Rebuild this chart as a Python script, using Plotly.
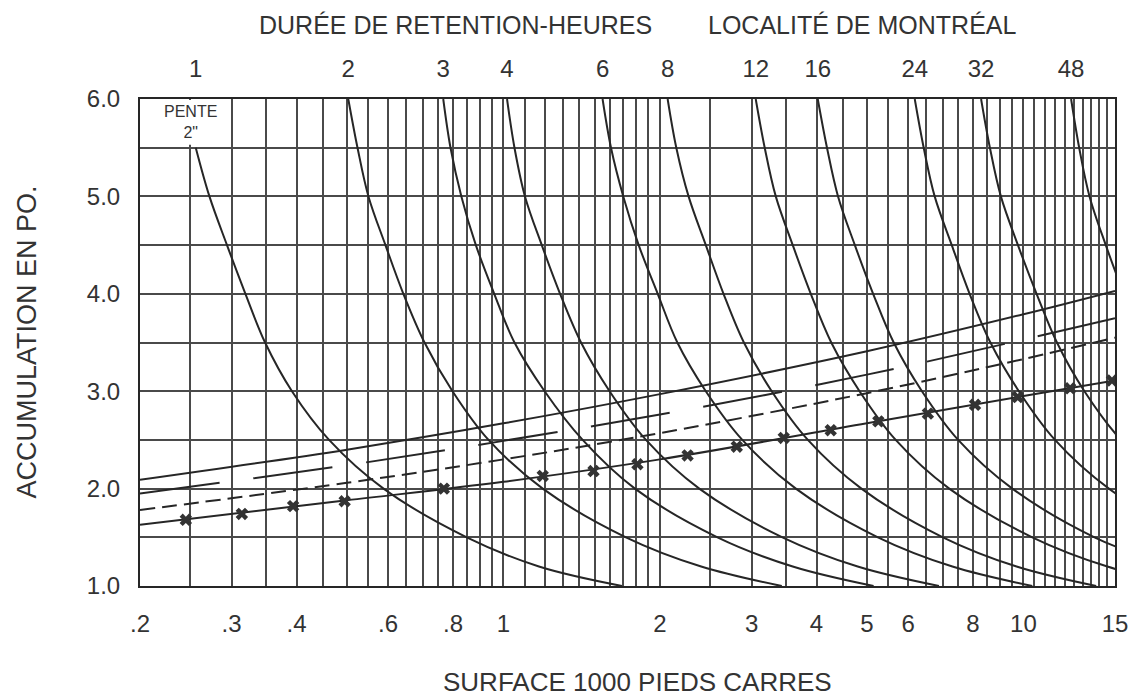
import numpy as np
import plotly.graph_objects as go

# Accumulation levels (po.) at which each retention curve was read
acc_levels = [6.0, 5.5, 5.0, 4.5, 4.0, 3.5, 3.0, 2.5, 2.0, 1.5, 1.2, 1.0]

# Retention time labels (hours) and the surface (1000 pi.ca.) read for each level
hours = ['1', '2', '3', '4', '6', '8', '12', '16', '24', '32', '48']
surf_1h = [None, 0.256, 0.272, 0.294, 0.319, 0.348, 0.392, 0.462, 0.588, 0.85, 1.17, 1.69]
surf_2h = [0.503, 0.524, 0.550, 0.593, 0.642, 0.705, 0.798, 0.936, 1.19, 1.72, 2.40, 3.43]
surf_3h = [0.766, 0.791, 0.830, 0.885, 0.960, 1.05, 1.20, 1.42, 1.79, 2.58, 3.60, 5.15]
surf_4h = [1.016, 1.05, 1.10, 1.185, 1.285, 1.41, 1.60, 1.88, 2.38, 3.44, 4.80, 6.88]
surf_6h = [1.551, 1.61, 1.70, 1.82, 1.98, 2.16, 2.45, 2.88, 3.65, 5.25, 7.30, 10.4]
surf_8h = [2.069, 2.15, 2.27, 2.45, 2.65, 2.90, 3.28, 3.85, 4.88, 7.00, 9.70, 13.8]
surf_12h = [3.056, 3.18, 3.34, 3.60, 3.90, 4.27, 4.84, 5.68, 7.20, 10.4, 14.5, 20.6]
surf_16h = [4.022, 4.19, 4.40, 4.74, 5.14, 5.63, 6.38, 7.49, 9.52, 13.7, 19.2]
surf_24h = [6.18, 6.43, 6.75, 7.28, 7.88, 8.64, 9.80, 11.5, 14.6, 21.0]
surf_32h = [8.29, 8.62, 9.05, 9.76, 10.6, 11.6, 13.1, 15.4, 19.6]
surf_48h = [12.35, 12.8, 13.4, 14.4, 15.6, 17.1]
duration_curves = [surf_1h, surf_2h, surf_3h, surf_4h, surf_6h, surf_8h,
                   surf_12h, surf_16h, surf_24h, surf_32h, surf_48h]

# Sloped lines (surface vs accumulation)
slope_x = [0.2, 0.5, 1, 2, 5, 10, 15]
line_top_y = [2.09, 2.40, 2.67, 2.97, 3.41, 3.79, 4.03]
line_longdash_y = [1.95, 2.24, 2.49, 2.76, 3.17, 3.53, 3.75]
line_dash_y = [1.78, 2.06, 2.30, 2.57, 2.98, 3.33, 3.55]
line_low_y = [1.63, 1.88, 2.07, 2.30, 2.67, 2.95, 3.11]

# Points marked with a cross on the lowest line
mark_x = [0.245, 0.314, 0.394, 0.495, 0.768, 1.19, 1.49, 1.81, 2.26, 2.81,
          3.46, 4.26, 5.26, 6.55, 8.07, 9.75, 12.3, 14.8]
mark_y = [1.68, 1.74, 1.82, 1.87, 2.00, 2.13, 2.18, 2.25, 2.34, 2.43,
          2.52, 2.60, 2.69, 2.77, 2.86, 2.94, 3.03, 3.11]

# Axis grid and labels
grid_x = ([round(v, 2) for v in np.arange(0.2, 1.0, 0.05)]
          + [round(v, 1) for v in np.arange(1.0, 2.0, 0.1)]
          + [round(v, 1) for v in np.arange(2.0, 15.01, 0.5)])
x_labels = {0.2: '.2', 0.3: '.3', 0.4: '.4', 0.6: '.6', 0.8: '.8', 1.0: '1',
            2.0: '2', 3.0: '3', 4.0: '4', 5.0: '5', 6.0: '6', 8.0: '8',
            10.0: '10', 15.0: '15'}
grid_y = [1.0, 1.5, 2.0, 2.5, 3.0, 3.5, 4.0, 4.5, 5.0, 5.5, 6.0]
y_labels = {1.0: '1.0', 2.0: '2.0', 3.0: '3.0', 4.0: '4.0', 5.0: '5.0', 6.0: '6.0'}

INK = '#262626'
GRID = '#4a4a4a'
TXT = '#333333'
FONT = 'Liberation Sans'

fig = go.Figure()

for xs in duration_curves:
    fig.add_trace(go.Scatter(
        x=xs, y=acc_levels[:len(xs)], mode='lines',
        line=dict(color=INK, width=2, shape='spline'),
        hoverinfo='skip', showlegend=False
    ))

fig.add_trace(go.Scatter(x=slope_x, y=line_top_y, mode='lines',
                         line=dict(color=INK, width=2, shape='spline'),
                         hoverinfo='skip', showlegend=False))
fig.add_trace(go.Scatter(x=slope_x, y=line_longdash_y, mode='lines',
                         line=dict(color=INK, width=2, shape='spline', dash='80px,34px'),
                         hoverinfo='skip', showlegend=False))
fig.add_trace(go.Scatter(x=slope_x, y=line_dash_y, mode='lines',
                         line=dict(color=INK, width=2, shape='spline', dash='15px,7px'),
                         hoverinfo='skip', showlegend=False))
fig.add_trace(go.Scatter(x=slope_x, y=line_low_y, mode='lines',
                         line=dict(color=INK, width=2, shape='spline'),
                         hoverinfo='skip', showlegend=False))
fig.add_trace(go.Scatter(x=mark_x, y=mark_y, mode='markers',
                         marker=dict(symbol='x', size=11, color='#333333'),
                         hoverinfo='skip', showlegend=False))

# top axis: retention hours at the top end of each curve
top_x = [c[0] if c[0] is not None else c[1] for c in duration_curves]
fig.add_trace(go.Scatter(x=top_x, y=[6.0] * len(top_x), xaxis='x2', mode='markers',
                         marker=dict(opacity=0), hoverinfo='skip', showlegend=False))

xrange = [np.log10(0.2), np.log10(15)]
fig.update_layout(
    width=1135, height=690,
    margin=dict(l=132, r=28, t=91, b=112),
    paper_bgcolor='white', plot_bgcolor='white',
    font=dict(family=FONT, color=TXT),
    xaxis=dict(
        type='log', range=xrange,
        tickmode='array', tickvals=grid_x,
        ticktext=[x_labels.get(v, '') for v in grid_x],
        showgrid=True, gridcolor=GRID, gridwidth=1.6,
        showline=True, linecolor=INK, linewidth=2, mirror=True,
        ticks='outside', ticklen=15, tickcolor='rgba(0,0,0,0)',
        tickfont=dict(size=24, family=FONT, color=TXT),
        zeroline=False
    ),
    xaxis2=dict(
        type='log', range=xrange, overlaying='x', side='top',
        tickmode='array', tickvals=top_x, ticktext=hours,
        showgrid=False, showline=False,
        ticks='outside', ticklen=11, tickcolor='rgba(0,0,0,0)',
        tickfont=dict(size=24, family=FONT, color=TXT)
    ),
    yaxis=dict(
        range=[1, 6], tickmode='array', tickvals=grid_y,
        ticktext=[y_labels.get(v, '') for v in grid_y],
        showgrid=True, gridcolor=GRID, gridwidth=1.6,
        showline=True, linecolor=INK, linewidth=2, mirror=True,
        ticks='outside', ticklen=13, tickcolor='rgba(0,0,0,0)',
        tickfont=dict(size=24, family=FONT, color=TXT),
        zeroline=False
    ),
    shapes=[dict(type='rect', xref='x', yref='y', x0=0.201, x1=0.297, y0=5.53, y1=5.99,
                 fillcolor='white', line=dict(width=0), layer='between')],
    annotations=[
        dict(text='PENTE<br>2"', xref='x', yref='y', x=np.log10(0.25), y=5.76,
             showarrow=False, font=dict(size=16, family=FONT, color=TXT), align='center'),
        dict(text='DURÉE DE RETENTION-HEURES', xref='paper', yref='paper', x=0.324, y=1,
             xanchor='center', yanchor='middle', yshift=74, showarrow=False,
             font=dict(size=25, family=FONT, color=TXT)),
        dict(text='LOCALITÉ DE MONTRÉAL', xref='paper', yref='paper', x=0.741, y=1,
             xanchor='center', yanchor='middle', yshift=74, showarrow=False,
             font=dict(size=25, family=FONT, color=TXT)),
        dict(text='SURFACE 1000 PIEDS CARRES', xref='paper', yref='paper', x=0.51, y=0,
             xanchor='center', yanchor='middle', yshift=-96, showarrow=False,
             font=dict(size=26, family=FONT, color=TXT)),
        dict(text='ACCUMULATION EN PO.', xref='paper', yref='paper', x=0, y=0.5,
             xanchor='center', yanchor='middle', xshift=-114, textangle=-90,
             showarrow=False, font=dict(size=27, family=FONT, color=TXT)),
    ]
)

fig.write_html("out.html")
